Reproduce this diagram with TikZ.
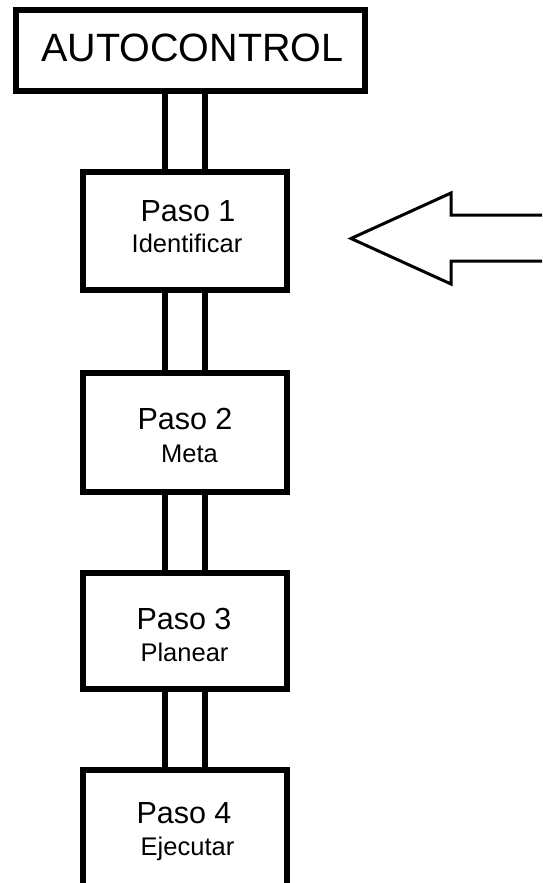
\documentclass[tikz,border=0pt]{standalone}
\usepackage{fontspec}
\setmainfont{Liberation Sans}
\begin{document}
\begin{tikzpicture}[x=1pt,y=-1pt,
  stepbox/.style={draw=black,line width=6pt,fill=white,rectangle,outer sep=0pt,inner sep=0pt},
  link/.style={draw=black,line width=6pt},
  title/.style={anchor=base,inner sep=0pt,font=\fontsize{39.5}{46}\selectfont},
  head/.style={anchor=base,inner sep=0pt,font=\fontsize{30.5}{36}\selectfont},
  sub/.style={anchor=base,inner sep=0pt,font=\fontsize{25.5}{30}\selectfont}]
\useasboundingbox (0,0) rectangle (542,883);
\clip (0,0) rectangle (542,883);
\fill[white] (0,0) rectangle (542,883);

% boxes
\node[stepbox,minimum width=349pt,minimum height=81pt] (auto) at (190.5,50.5) {};
\node[stepbox,minimum width=204pt,minimum height=118pt] (p1) at (185,231) {};
\node[stepbox,minimum width=204pt,minimum height=119pt] (p2) at (185,432.5) {};
\node[stepbox,minimum width=204pt,minimum height=116pt] (p3) at (185,631) {};
\node[stepbox,minimum width=204pt,minimum height=130pt] (p4) at (185,835) {};

% double-bar links between the boxes
\foreach \dx in {-20,20}{
  \draw[link] ([xshift=\dx pt]p1.north |- auto.south) -- ([xshift=\dx pt]p1.north);
  \draw[link] ([xshift=\dx pt]p1.south) -- ([xshift=\dx pt]p2.north);
  \draw[link] ([xshift=\dx pt]p2.south) -- ([xshift=\dx pt]p3.north);
  \draw[link] ([xshift=\dx pt]p3.south) -- ([xshift=\dx pt]p4.north);
}

% labels
\node[title] (tauto) at (192.5,62) {AUTOCONTROL};
\node[head] (h1) at (188,221) {Paso 1};
\node[sub]  (s1) at (187,252) {Identificar};
\node[head] (h2) at (185,429) {Paso 2};
\node[sub]  (s2) at (189.5,462) {Meta};
\node[head] (h3) at (184,629) {Paso 3};
\node[sub]  (s3) at (184.5,661) {Planear};
\node[head] (h4) at (184,823) {Paso 4};
\node[sub]  (s4) at (187.5,855) {Ejecutar};

% open block arrow pointing at the first step
\draw[line width=3pt,line join=miter]
  (560,215) -- (451,215) -- (451,193) -- (351,238.5) -- (451,284) -- (451,261) -- (560,261);
\end{tikzpicture}
\end{document}
